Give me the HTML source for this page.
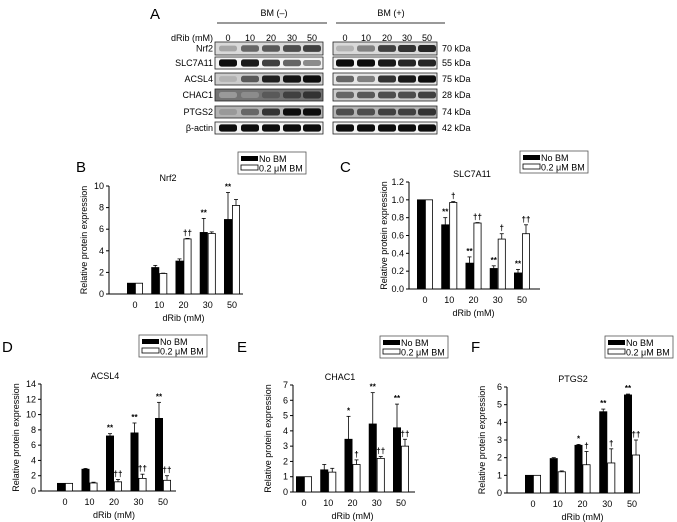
<!DOCTYPE html>
<html><head><meta charset="utf-8">
<style>
html,body{margin:0;padding:0;background:#fff;}
svg{display:block;font-family:"Liberation Sans",Arial,sans-serif;}
</style></head>
<body>
<svg id="fig" width="677" height="522" viewBox="0 0 677 522" xmlns="http://www.w3.org/2000/svg"></svg>
<script>
const categories = ["0","10","20","30","50"];
// Panel B Nrf2
const nrf2NoBM = [1,2.45,3.05,5.7,6.9];
const nrf2NoBMErr = [0,0.2,0.2,1.3,2.5];
const nrf2BM = [1,1.9,5.1,5.6,8.2];
const nrf2BMErr = [0,0.03,0.05,0.15,0.55];
const nrf2NoBMSig = ["","","","**","**"];
const nrf2BMSig = ["","","††","",""];
const nrf2Ticks = ["0","2","4","6","8","10"];
// Panel C SLC7A11
const slcNoBM = [1,0.72,0.29,0.23,0.18];
const slcNoBMErr = [0,0.08,0.07,0.03,0.04];
const slcBM = [1,0.97,0.74,0.56,0.62];
const slcBMErr = [0,0.01,0.005,0.06,0.1];
const slcNoBMSig = ["","**","**","**","**"];
const slcBMSig = ["","†","††","†","††"];
const slcTicks = ["0.0","0.2","0.4","0.6","0.8","1.0","1.2"];
// Panel D ACSL4
const acslNoBM = [1,2.85,7.2,7.6,9.5];
const acslNoBMErr = [0,0.1,0.3,1.3,2.1];
const acslBM = [1,1.05,1.2,1.65,1.4];
const acslBMErr = [0,0.1,0.3,0.55,0.6];
const acslNoBMSig = ["","","**","**","**"];
const acslBMSig = ["","","††","††","††"];
const acslTicks = ["0","2","4","6","8","10","12","14"];
// Panel E CHAC1
const chacNoBM = [1,1.45,3.45,4.45,4.2];
const chacNoBMErr = [0,0.35,1.5,2.05,1.55];
const chacBM = [1,1.3,1.8,2.2,3.0];
const chacBMErr = [0,0.25,0.3,0.12,0.45];
const chacNoBMSig = ["","","*","**","**"];
const chacBMSig = ["","","†","††","††"];
const chacTicks = ["0","1","2","3","4","5","6","7"];
// Panel F PTGS2
const ptgsNoBM = [1,1.95,2.7,4.6,5.55];
const ptgsNoBMErr = [0,0.05,0.05,0.15,0.05];
const ptgsBM = [1,1.2,1.6,1.7,2.15];
const ptgsBMErr = [0,0.05,0.75,0.8,0.85];
const ptgsNoBMSig = ["","","*","**","**"];
const ptgsBMSig = ["","","†","†","††"];
const ptgsTicks = ["0","1","2","3","4","5","6"];
// Western blot band intensities (0-1 darkness)
const blotProteins = ["Nrf2","SLC7A11","ACSL4","CHAC1","PTGS2","β-actin"];
const blotKDa = ["70 kDa","55 kDa","75 kDa","28 kDa","74 kDa","42 kDa"];
const blotLeft = [[.35,.6,.65,.7,.75],[.95,.9,.75,.6,.45],[.3,.65,.88,.92,.95],[.4,.45,.65,.75,.8],[.4,.6,.8,.95,.95],[.95,.95,.95,.95,.95]];
const blotRight = [[.3,.5,.75,.8,.85],[.95,.95,.9,.85,.85],[.6,.5,.8,.9,.95],[.6,.65,.7,.7,.75],[.7,.7,.75,.75,.8],[.95,.95,.95,.95,.95]];
const blotBgLeft = [.15,.05,.2,.55,.3,.05];
const blotBgRight = [.15,.05,.1,.2,.3,.05];

const NS="http://www.w3.org/2000/svg";
const svg=document.getElementById('fig');
function mk(tag,attrs,parent,text){const e=document.createElementNS(NS,tag);for(const k in attrs)e.setAttribute(k,attrs[k]);if(text!==undefined)e.textContent=text;(parent||svg).appendChild(e);return e;}
function gray(d){const v=Math.round(255*(1-d));return `rgb(${v},${v},${v})`;}

// ---- Panel A ----
const gA=mk('g',{});


let t=mk('text',{x:150,y:19,'font-size':15},gA,'A');

t=mk('text',{x:274,y:16,'font-size':9,'text-anchor':'middle'},gA,'BM (–)');

t=mk('text',{x:391,y:16,'font-size':9,'text-anchor':'middle'},gA,'BM (+)');

mk('line',{x1:217,x2:327,y1:23,y2:23,stroke:'#333','stroke-width':1},gA);
mk('line',{x1:336,x2:445,y1:23,y2:23,stroke:'#333','stroke-width':1},gA);
t=mk('text',{x:213,y:41,'font-size':9,'text-anchor':'end'},gA,'dRib (mM)');

const laneL=[228,250,271,292,312], laneR=[345,366,387,407,427];
categories.forEach((c,i)=>{
  mk('text',{x:laneL[i],y:41,'font-size':9,'text-anchor':'middle'},gA,c);
  mk('text',{x:laneR[i],y:41,'font-size':9,'text-anchor':'middle'},gA,c);
});
const rowTop=[46,57,73,89,106,122];
blotProteins.forEach((p,r)=>{
  const y=rowTop[r]-(r===0?4:0), h=r===0?13:12;
  const tl=mk('text',{x:213,y:y+h/2+3,'font-size':9,'text-anchor':'end'},gA,p);
  
  [[215,323,blotLeft,blotBgLeft,laneL],[333,437,blotRight,blotBgRight,laneR]].forEach(([x0,x1,vals,bg,lanes])=>{
    mk('rect',{x:x0,y:y,width:x1-x0,height:h,fill:gray(bg[r]),stroke:'#222','stroke-width':0.8},gA);
    vals[r].forEach((d,i)=>{
      mk('rect',{x:lanes[i]-9,y:y+h/2-2.5-d*1.2,width:18,height:5+d*2.4,rx:2.5,fill:gray(d)},gA);
    });
  });
  const tk=mk('text',{x:442,y:y+h/2+3,'font-size':9},gA,blotKDa[r]);
  
});

// ---- bar chart panels ----
function chart(cfg){
  const g=mk('g',{});
  
  
  const yS=v=>cfg.y0-(v-cfg.vmin)/(cfg.vmax-cfg.vmin)*(cfg.y0-cfg.y1);
  const xS=i=>cfg.c0+(cfg.c1-cfg.c0)*i/(categories.length-1);
  let e=mk('text',{x:cfg.lx,y:cfg.ly,'font-size':15},g,cfg.letter);
  
  e=mk('text',{x:cfg.tx,y:cfg.y1-5,'font-size':9,'text-anchor':'middle'},g,cfg.title);
  
  e=mk('line',{x1:cfg.ax,x2:cfg.ax,y1:cfg.y1,y2:cfg.y0,stroke:'#000','stroke-width':1},g);
  
  e=mk('line',{x1:cfg.ax,x2:cfg.axEnd,y1:cfg.y0,y2:cfg.y0,stroke:'#000','stroke-width':1},g);
  
  const n=cfg.ticks.length;
  cfg.ticks.forEach((tl,i)=>{
    const v=cfg.vmin+(cfg.vmax-cfg.vmin)*i/(n-1), y=yS(v);
    mk('line',{x1:cfg.ax-3,x2:cfg.ax,y1:y,y2:y,stroke:'#000'},g);
    const tt=mk('text',{x:cfg.ax-5,y:y+3,'font-size':9,'text-anchor':'end'},g,tl);
    
  });
  e=mk('text',{transform:`translate(${cfg.ax-22},${(cfg.y0+cfg.y1)/2}) rotate(-90)`,'font-size':9,'text-anchor':'middle'},g,'Relative protein expression');
  
  e=mk('text',{x:(cfg.c0+cfg.c1)/2,y:cfg.y0+27,'font-size':9,'text-anchor':'middle'},g,'dRib (mM)');
  
  const bw=8;
  categories.forEach((c,i)=>{
    const cx=xS(i);
    const tt=mk('text',{x:cx,y:cfg.y0+14,'font-size':9,'text-anchor':'middle'},g,c);
    
    [[cfg.a,cfg.ae,cfg.as,'#000',cx-bw],[cfg.b,cfg.be,cfg.bs,'#fff',cx]].forEach(([vals,errs,sig,fill,x])=>{
      const v=vals[i], top=yS(v), et=yS(v+errs[i]);
      if(errs[i]>0){
        mk('line',{x1:x+bw/2,x2:x+bw/2,y1:top,y2:et,stroke:'#000','stroke-width':0.8},g);
        mk('line',{x1:x+bw/2-2,x2:x+bw/2+2,y1:et,y2:et,stroke:'#000','stroke-width':0.8},g);
      }
      const r=mk('rect',{x:x+0.4,y:top,width:bw-0.8,height:cfg.y0-top,fill:fill,stroke:'#000','stroke-width':0.8},g);
      
      
      if(sig[i]){
        const s=mk('text',{x:x+bw/2,y:et-3,'font-size':8,'font-weight':'bold','text-anchor':'middle'},g,sig[i]);
        
      }
    });
  });
  const L=mk('g',{},g);
  
  mk('rect',{x:cfg.gx,y:cfg.gy,width:68,height:22,fill:'#fff',stroke:'#555','stroke-width':0.8},L);
  mk('rect',{x:cfg.gx+3,y:cfg.gy+4,width:17,height:5,fill:'#000'},L);
  mk('rect',{x:cfg.gx+3,y:cfg.gy+13,width:17,height:5,fill:'#fff',stroke:'#000','stroke-width':0.8},L);
  e=mk('text',{x:cfg.gx+21,y:cfg.gy+10,'font-size':9},L,'No BM');
  
  e=mk('text',{x:cfg.gx+21,y:cfg.gy+19.5,'font-size':9},L,'0.2 μM BM');
  
}
chart({letter:'B',lx:76,ly:172,title:'Nrf2',tx:168,ax:109,axEnd:243,y0:294,y1:186,vmin:0,vmax:10,c0:135,c1:232,ticks:nrf2Ticks,a:nrf2NoBM,ae:nrf2NoBMErr,as:nrf2NoBMSig,b:nrf2BM,be:nrf2BMErr,bs:nrf2BMSig,gx:238,gy:152});
chart({letter:'C',lx:340,ly:172,title:'SLC7A11',tx:472,ax:409,axEnd:540,y0:289,y1:182,vmin:0,vmax:1.2,c0:425,c1:522,ticks:slcTicks,a:slcNoBM,ae:slcNoBMErr,as:slcNoBMSig,b:slcBM,be:slcBMErr,bs:slcBMSig,gx:520,gy:151});
chart({letter:'D',lx:2,ly:352,title:'ACSL4',tx:105,ax:41,axEnd:176,y0:491,y1:384,vmin:0,vmax:14,c0:65,c1:163,ticks:acslTicks,a:acslNoBM,ae:acslNoBMErr,as:acslNoBMSig,b:acslBM,be:acslBMErr,bs:acslBMSig,gx:139,gy:335});
chart({letter:'E',lx:237,ly:352,title:'CHAC1',tx:340,ax:293,axEnd:415,y0:492,y1:385,vmin:0,vmax:7,c0:304,c1:401,ticks:chacTicks,a:chacNoBM,ae:chacNoBMErr,as:chacNoBMSig,b:chacBM,be:chacBMErr,bs:chacBMSig,gx:380,gy:336});
chart({letter:'F',lx:471,ly:352,title:'PTGS2',tx:573,ax:507,axEnd:638,y0:493,y1:387,vmin:0,vmax:6,c0:533,c1:632,ticks:ptgsTicks,a:ptgsNoBM,ae:ptgsNoBMErr,as:ptgsNoBMSig,b:ptgsBM,be:ptgsBMErr,bs:ptgsBMSig,gx:605,gy:336});
</script>
</body></html>
